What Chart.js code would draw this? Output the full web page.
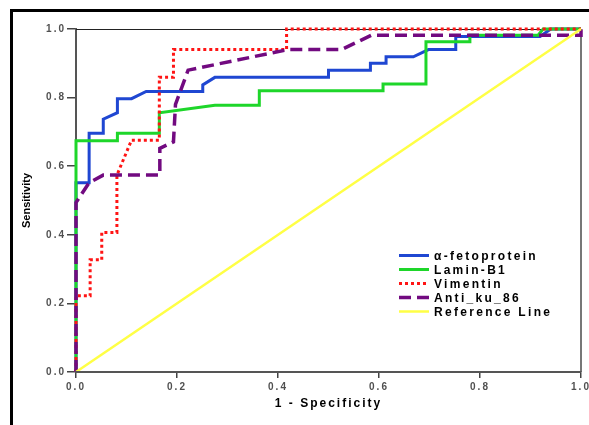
<!DOCTYPE html>
<html>
<head>
<meta charset="utf-8">
<script src="https://cdn.jsdelivr.net/npm/chart.js@4"></script>
<style>
  html, body { margin: 0; padding: 0; background: #fff; }
  #wrap { width: 589px; height: 425px; }
  canvas { display: block; }
</style>
</head>
<body>
<div id="wrap"><canvas id="roc" width="589" height="425"></canvas></div>
<script>
// ROC curves (1 - specificity, sensitivity)
const seriesNames = ['α-fetoprotein', 'Lamin-B1', 'Vimentin', 'Anti_ku_86', 'Reference Line'];

const afpX = [0, 0, 0.026, 0.026, 0.054, 0.054, 0.082, 0.082, 0.110, 0.139, 0.251, 0.251, 0.275, 0.500, 0.500, 0.583, 0.583, 0.614, 0.614, 0.668, 0.698, 0.752, 0.752, 0.919, 0.940, 1];
const afpY = [0, 0.552, 0.552, 0.696, 0.696, 0.737, 0.756, 0.797, 0.797, 0.818, 0.818, 0.837, 0.859, 0.859, 0.880, 0.880, 0.900, 0.900, 0.919, 0.919, 0.940, 0.940, 0.978, 0.978, 1, 1];

const laminX = [0, 0, 0.082, 0.082, 0.165, 0.165, 0.275, 0.363, 0.363, 0.608, 0.608, 0.693, 0.693, 0.780, 0.780, 0.915, 0.925, 1];
const laminY = [0, 0.674, 0.674, 0.696, 0.696, 0.756, 0.778, 0.778, 0.820, 0.820, 0.840, 0.840, 0.963, 0.963, 0.982, 0.982, 1, 1];

const vimX = [0, 0, 0.028, 0.028, 0.051, 0.051, 0.081, 0.081, 0.110, 0.165, 0.165, 0.193, 0.193, 0.417, 0.417, 1];
const vimY = [0, 0.222, 0.222, 0.327, 0.327, 0.407, 0.407, 0.574, 0.676, 0.676, 0.859, 0.859, 0.940, 0.940, 1, 1];

const kuX = [0, 0, 0.026, 0.054, 0.166, 0.166, 0.193, 0.197, 0.222, 0.420, 0.526, 0.585, 1, 1];
const kuY = [0, 0.494, 0.552, 0.574, 0.574, 0.652, 0.671, 0.780, 0.880, 0.940, 0.940, 0.982, 0.982, 1];

const refX = [0, 1];
const refY = [0, 1];

const tickStep = 0.2;

const toPoints = (xs, ys) => xs.map((x, i) => ({ x, y: ys[i] }));
const FONT = '"Liberation Sans", Arial, sans-serif';

// frame, plot border, spacing of the stretched labels and the inset legend
const decor = {
  id: 'decor',
  beforeDraw(chart) {
    const ctx = chart.ctx;
    ctx.letterSpacing = '0px';
    ctx.fillStyle = '#000';
    ctx.fillRect(10, 9, 3, chart.height);
    ctx.fillRect(10, 9, chart.width, 3);
  },
  beforeDatasetsDraw(chart) {
    const { ctx, chartArea: a } = chart;
    ctx.save();
    ctx.strokeStyle = '#222';
    ctx.lineWidth = 1;
    ctx.beginPath();
    ctx.moveTo(a.left, a.top + 0.5);
    ctx.lineTo(a.right, a.top + 0.5);
    ctx.stroke();
    ctx.strokeStyle = '#777';
    ctx.lineWidth = 2;
    ctx.beginPath();
    ctx.moveTo(a.right, a.top);
    ctx.lineTo(a.right, a.bottom);
    ctx.stroke();
    ctx.restore();
  },
  afterDatasetsDraw(chart) {
    chart.ctx.letterSpacing = '2px';
  },
  afterDraw(chart) {
    const ctx = chart.ctx;
    ctx.save();
    ctx.letterSpacing = '2.3px';
    ctx.font = 'bold 12px ' + FONT;
    ctx.textBaseline = 'middle';
    chart.data.datasets.forEach((ds, i) => {
      const y = 255.5 + i * 14;
      ctx.strokeStyle = ds.borderColor;
      ctx.lineWidth = ds.borderWidth;
      ctx.setLineDash(ds.borderDash || []);
      ctx.beginPath();
      ctx.moveTo(399, y);
      ctx.lineTo(429, y);
      ctx.stroke();
      ctx.setLineDash([]);
      ctx.fillStyle = '#000';
      ctx.fillText(ds.label, 434, y + 1);
    });
    ctx.restore();
    ctx.letterSpacing = '0px';
  }
};

const line = (label, xs, ys, color, width, dash, order) => ({
  label,
  data: toPoints(xs, ys),
  showLine: true,
  borderColor: color,
  backgroundColor: color,
  borderWidth: width,
  borderDash: dash,
  borderJoinStyle: 'miter',
  pointRadius: 0,
  tension: 0,
  fill: false,
  clip: 4,
  order
});

new Chart(document.getElementById('roc'), {
  type: 'scatter',
  data: {
    datasets: [
      line(seriesNames[0], afpX, afpY, '#1f47d2', 3, [], 4),
      line(seriesNames[1], laminX, laminY, '#1ed62a', 3, [], 3),
      line(seriesNames[2], vimX, vimY, '#ff1414', 3, [3, 3], 2),
      line(seriesNames[3], kuX, kuY, '#720a80', 3.5, [12, 6], 1),
      line(seriesNames[4], refX, refY, '#ffff45', 2.5, [], 0)
    ]
  },
  options: {
    responsive: false,
    animation: false,
    layout: { padding: { left: 12, top: 29, right: 8, bottom: 0 } },
    plugins: { legend: { display: false }, tooltip: { enabled: false } },
    scales: {
      x: {
        type: 'linear',
        min: 0,
        max: 1,
        afterFit: s => { s.height = 53; s.paddingLeft = 0; s.paddingRight = 0; },
        ticks: {
          stepSize: tickStep,
          callback: v => v.toFixed(1),
          font: { family: FONT, size: 10, weight: 'bold' },
          color: '#505050',
          padding: 3,
          maxRotation: 0,
          z: 1
        },
        grid: { drawOnChartArea: false, tickLength: 6, color: '#444', lineWidth: 1.5, z: 1 },
        border: { color: '#555', width: 2, z: 1 },
        title: {
          display: true,
          text: '1 - Specificity',
          color: '#000',
          font: { family: FONT, size: 12, weight: 'bold' },
          padding: { top: 0, bottom: 14 }
        }
      },
      y: {
        type: 'linear',
        min: 0,
        max: 1,
        afterFit: s => { s.width = 64; s.paddingTop = 0; s.paddingBottom = 0; },
        ticks: {
          stepSize: tickStep,
          callback: v => v.toFixed(1),
          font: { family: FONT, size: 10, weight: 'bold' },
          color: '#505050',
          padding: 1,
          z: 1
        },
        grid: { drawOnChartArea: false, tickLength: 9, color: '#444', lineWidth: 1.5 },
        border: { color: '#555', width: 2 },
        title: {
          display: true,
          text: 'Sensitivity',
          color: '#000',
          font: { family: FONT, size: 11, weight: 'bold' },
          padding: { top: 8, bottom: 0 }
        }
      }
    }
  },
  plugins: [decor]
});
</script>
</body>
</html>
